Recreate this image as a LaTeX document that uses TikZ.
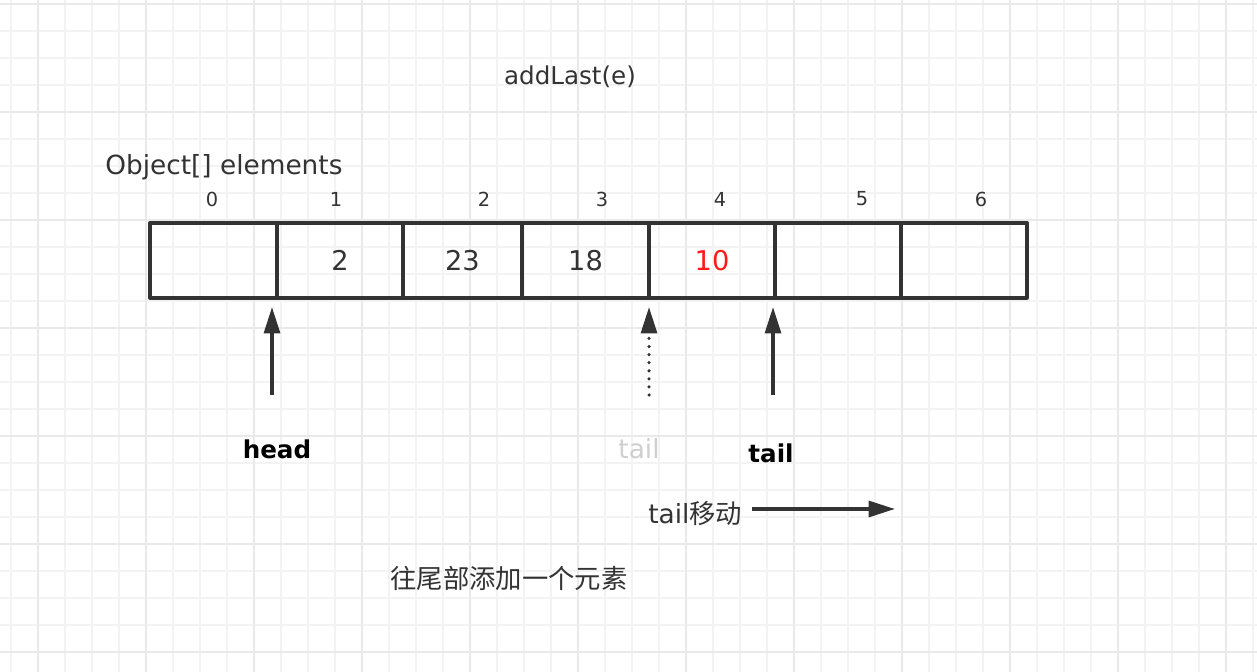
\documentclass[tikz,border=0pt]{standalone}
\usepackage{fontspec}
\setmainfont{DejaVu Sans}
\newfontfamily\cjk{Noto Sans CJK SC}
\usetikzlibrary{arrows.meta,positioning}
\definecolor{ink}{HTML}{333333}
\definecolor{faded}{HTML}{CFCFCF}
\definecolor{hot}{HTML}{FF1A1A}
\definecolor{gridmin}{HTML}{F3F3F3}
\definecolor{gridmaj}{HTML}{E9E9E9}
\tikzset{
  cell/.style={draw=ink,line width=1.9pt,minimum height=1.5cm,inner sep=0pt,
    font=\fontsize{15.5pt}{18pt}\selectfont,text=ink},
  idx/.style={font=\fontsize{11pt}{13pt}\selectfont,text=ink},
  ptr/.style={draw=ink,line width=2pt,-{Triangle[length=15pt,width=9pt]}},
  lbl/.style={font=\fontsize{14pt}{17pt}\selectfont\bfseries,text=black,inner sep=0pt},
  note/.style={font=\fontsize{15pt}{18pt}\selectfont,text=ink,inner sep=0pt},
}

\begin{document}
\begin{tikzpicture}[x=0.02cm,y=-0.02cm,line join=round]
  \useasboundingbox (0,0) rectangle (1257,672);
  \fill[white] (0,0) rectangle (1257,672);
  % background grid
  \foreach \x in {11,38,...,1253} \draw[gridmin,line width=0.6pt] (\x,0)--(\x,672);
  \foreach \y in {4,31,...,670} \draw[gridmin,line width=0.6pt] (0,\y)--(1257,\y);
  \foreach \x in {38,146,...,1226} \draw[gridmaj,line width=1pt] (\x,0)--(\x,672);
  \foreach \y in {4,112,...,652} \draw[gridmaj,line width=1pt] (0,\y)--(1257,\y);

  \node[note,font=\fontsize{14pt}{17pt}\selectfont] (title) at (570,77) {addLast(e)};
  \node[note,anchor=west] (arrname) at (105,167) {Object[] elements};

  % array cells
  \foreach \i/\l/\r/\v in {0/150/277/{},1/277/403/2,2/403/522/23,3/522/649/18,
      4/649/775/{\textcolor{hot}{10}},5/775/901/{},6/901/1027/{}}
    \node[cell,minimum width={(\r-\l)*0.02cm}] (c\i) at ({(\l+\r)/2},260.5) {\v};
  \foreach \i/\x in {0/212,1/336,2/484,3/602,4/720,5/862,6/981}
    \node[idx] (n\i) at (\x,199) {\i};

  % pointers
  \coordinate (headtip) at (272,307);
  \coordinate (headfoot) at (272,395);
  \coordinate (oldtip) at (649,307);
  \coordinate (oldfoot) at (649,395);
  \coordinate (tailtip) at (773,307);
  \coordinate (tailfoot) at (773,395);
  \draw[ptr] (headfoot) -- (headtip);
  \draw[ptr,line cap=round,dash pattern=on 0pt off 4.6pt] (oldfoot) -- (oldtip);
  \draw[ptr] (tailfoot) -- (tailtip);

  \node[lbl] (head) at (277,449) {head};
  \node[note,text=faded] (oldtail) at (639,449) {tail};
  \node[lbl] (tail) at (771,453) {tail};

  \node[note,anchor=west] (tailmove) at (648,514) {tail{\cjk 移动}};
  \coordinate (movefoot) at (752,509);
  \coordinate (movetip) at (895,509);
  \draw[ptr] (movefoot) -- (movetip);

  \node[note] (caption) at (509,578) {\cjk 往尾部添加一个元素};
\end{tikzpicture}
\end{document}
